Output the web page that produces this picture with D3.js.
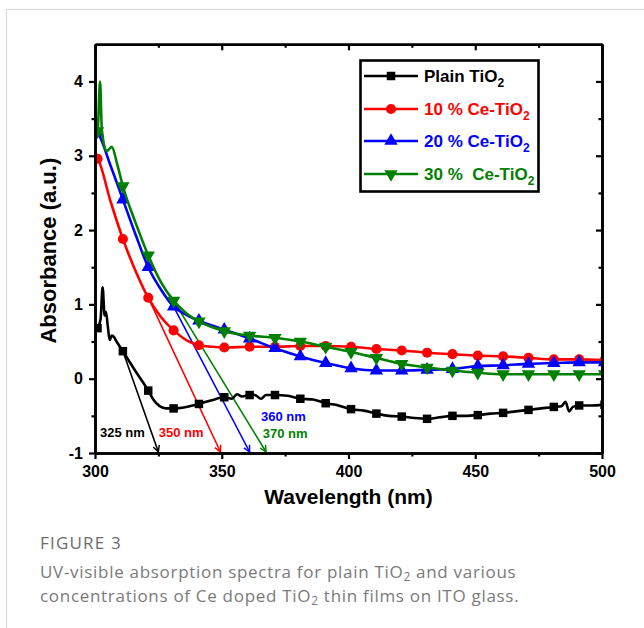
<!DOCTYPE html>
<html><head><meta charset="utf-8">
<script src="https://cdn.jsdelivr.net/npm/d3@7"></script>
<style>
html,body{margin:0;padding:0;background:#fff;}
svg{display:block;}
</style></head>
<body>
<svg id="chart" width="644" height="628"></svg>
<script>
// ---------- DATA ----------
const xMajorTicks = [300, 350, 400, 450, 500];
const xMinorTicks = [325, 375, 425, 475];
const yMajorTicks = [-1, 0, 1, 2, 3, 4];
const yMinorTicks = [-0.5, 0.5, 1.5, 2.5, 3.5];

const markerWavelengths = [301,311,321,331,341,351,361,371,381,391,401,411,421,431,441,451,461,471,481,491,501];

const plainTiO2 = [[300.2,0.66],[301,0.68],[302.2,0.80],[303,1.23],[303.8,0.85],[304.3,0.90],[305,0.72],[305.8,0.52],[306.6,0.58],[307.5,0.56],[308.5,0.50],[311,0.37],[316,0.10],[321,-0.16],[323,-0.28],[325.5,-0.37],[328,-0.40],[331,-0.40],[336,-0.38],[341,-0.34],[346,-0.29],[351,-0.25],[354,-0.27],[356,-0.21],[358,-0.24],[361,-0.22],[363,-0.22],[365.5,-0.27],[367.5,-0.22],[371,-0.22],[376,-0.23],[381,-0.27],[386,-0.28],[391,-0.33],[396,-0.36],[401,-0.41],[406,-0.43],[411,-0.47],[416,-0.50],[421,-0.51],[426,-0.53],[431,-0.54],[436,-0.52],[441,-0.50],[446,-0.50],[451,-0.49],[456,-0.47],[461,-0.46],[466,-0.44],[471,-0.42],[476,-0.40],[481,-0.38],[484,-0.37],[485.6,-0.31],[487,-0.44],[488.5,-0.38],[491,-0.36],[496,-0.36],[501,-0.35]];
const ce10 = [[300.3,2.98],[301,2.96],[306,2.40],[311,1.88],[316,1.45],[321,1.09],[326,0.83],[331,0.65],[336,0.52],[341,0.45],[346,0.43],[351,0.42],[361,0.43],[371,0.43],[381,0.44],[391,0.44],[401,0.43],[411,0.40],[421,0.38],[431,0.35],[441,0.33],[451,0.31],[461,0.30],[471,0.28],[481,0.26],[491,0.26],[501,0.25]];
const ce20 = [[300.3,3.33],[301,3.31],[306,2.88],[311,2.41],[316,1.94],[321,1.50],[326,1.20],[331,0.97],[336,0.86],[341,0.78],[351,0.66],[361,0.54],[371,0.41],[381,0.30],[391,0.21],[401,0.14],[411,0.11],[421,0.11],[431,0.12],[441,0.13],[451,0.17],[461,0.18],[471,0.20],[481,0.21],[491,0.22],[501,0.22]];
const ce30 = [[300.3,3.37],[301,3.33],[302,4.00],[302.7,3.35],[304.6,3.06],[306.6,3.12],[308.8,2.88],[311,2.59],[316,2.10],[321,1.66],[326,1.30],[331,1.05],[336,0.88],[341,0.77],[351,0.64],[361,0.58],[371,0.55],[381,0.50],[391,0.43],[401,0.36],[411,0.28],[421,0.20],[431,0.15],[441,0.11],[451,0.08],[461,0.06],[471,0.06],[481,0.06],[491,0.06],[501,0.06]];

const seriesNames = ["Plain TiO", "10 % Ce-TiO", "20 % Ce-TiO", "30 %  Ce-TiO"];
const seriesColors = ["#000000", "#ff0000", "#0000ff", "#008000"];
const seriesSymbols = ["square", "circle", "triangle", "triangleDown"];

// tangent lines: from point, to point (data units), label text, label anchor (data units)
const tangentFrom = [[311,0.37],[321,1.09],[331,0.97],[331,1.05]];
const tangentTo = [[325,-1],[349.5,-1],[361,-1],[367.5,-1]];
const tangentLabels = ["325 nm", "350 nm", "360 nm", "370 nm"];
const tangentLabelAt = [[310.8,-0.72],[334.0,-0.72],[374.3,-0.51],[375.0,-0.74]];

const xTitle = "Wavelength (nm)";
const yTitle = "Absorbance (a.u.)";
const figureLabel = "FIGURE 3";
const captionLine1 = ["UV-visible absorption spectra for plain TiO", "2", " and various"];
const captionLine2 = ["concentrations of Ce doped TiO", "2", " thin films on ITO glass."];

// ---------- DRAW ----------
const svg = d3.select("#chart");
const x = d3.scaleLinear().domain([300, 500]).range([95, 602]);
const y = d3.scaleLinear().domain([-1, 4.5]).range([453, 44.3]);
const seriesData = [plainTiO2, ce10, ce20, ce30];

// card border
svg.append("rect").attr("x", 6.5).attr("y", 9.5).attr("width", 700).attr("height", 700)
  .attr("fill", "none").attr("stroke", "#d9d9d9").attr("stroke-width", 1.2);

const defs = svg.append("defs");
defs.append("clipPath").attr("id", "plotclip").append("rect")
  .attr("x", x(300)).attr("y", y(4.5)).attr("width", x(500) - x(300)).attr("height", y(-1) - y(4.5));
seriesColors.forEach((c, i) => {
  defs.append("marker").attr("id", "arr" + i).attr("viewBox", "0 0 10 10")
    .attr("refX", 9).attr("refY", 5).attr("markerWidth", 8).attr("markerHeight", 8)
    .attr("markerUnits", "userSpaceOnUse").attr("orient", "auto")
    .append("path").attr("d", "M1,1 L9,5 L1,9").attr("fill", "none").attr("stroke", c).attr("stroke-width", 1.8);
});

function symbolPath(kind, size) {
  if (kind === "square") return d3.symbol(d3.symbolSquare, size)();
  if (kind === "circle") return d3.symbol(d3.symbolCircle, size)();
  return d3.symbol(d3.symbolTriangle, size)();
}

const plot = svg.append("g").attr("clip-path", "url(#plotclip)");
const line = d3.line().x(d => x(d[0])).y(d => y(d[1])).curve(d3.curveMonotoneX);

// tangents
tangentFrom.forEach((f, i) => {
  plot.append("line").attr("x1", x(f[0])).attr("y1", y(f[1]))
    .attr("x2", x(tangentTo[i][0])).attr("y2", y(tangentTo[i][1]) - 1)
    .attr("stroke", seriesColors[i]).attr("stroke-width", 1.6)
    .attr("marker-end", `url(#arr${i})`);
});

seriesData.forEach((data, i) => {
  plot.append("path").datum(data).attr("d", line)
    .attr("fill", "none").attr("stroke", seriesColors[i]).attr("stroke-width", 2.6)
    .attr("stroke-linejoin", "round");
  const pts = data.filter(d => markerWavelengths.includes(d[0]));
  plot.selectAll(null).data(pts).enter().append("path")
    .attr("d", symbolPath(seriesSymbols[i], seriesSymbols[i] === "square" ? 72 : (seriesSymbols[i] === "circle" ? 80 : 78)))
    .attr("transform", d => `translate(${x(d[0])},${y(d[1])})` + (seriesSymbols[i] === "triangleDown" ? " rotate(180)" : ""))
    .attr("fill", seriesColors[i]);
});

// tangent labels
tangentLabels.forEach((t, i) => {
  svg.append("text").attr("x", x(tangentLabelAt[i][0])).attr("y", y(tangentLabelAt[i][1]))
    .attr("text-anchor", "middle").attr("dominant-baseline", "central")
    .attr("font-family", "Liberation Sans, Arial, sans-serif").attr("font-weight", "bold")
    .attr("font-size", 13).attr("fill", seriesColors[i]).text(t);
});

// axes
const axisFont = "Liberation Sans, Arial, sans-serif";
function styleAxis(g, labels) {
  g.select(".domain").attr("stroke", "#000").attr("stroke-width", 2.6);
  g.selectAll(".tick line").attr("stroke", "#000").attr("stroke-width", 2.2);
  g.selectAll(".tick text").attr("font-family", axisFont).attr("font-weight", "bold")
    .attr("font-size", 16).attr("fill", "#000");
  if (!labels) g.selectAll(".tick text").remove();
}
const gB = svg.append("g").attr("transform", `translate(0,${y(-1)})`)
  .call(d3.axisBottom(x).tickValues(xMajorTicks).tickSize(6).tickSizeOuter(0).tickPadding(7).tickFormat(d3.format("d")));
styleAxis(gB, true);
const gBm = svg.append("g").attr("transform", `translate(0,${y(-1)})`)
  .call(d3.axisBottom(x).tickValues(xMinorTicks).tickSize(3.5).tickSizeOuter(0).tickFormat(""));
styleAxis(gBm, false);
const gT = svg.append("g").attr("transform", `translate(0,${y(4.5)})`)
  .call(d3.axisTop(x).tickValues(xMajorTicks).tickSize(-6).tickSizeOuter(0));
styleAxis(gT, false);
const gTm = svg.append("g").attr("transform", `translate(0,${y(4.5)})`)
  .call(d3.axisTop(x).tickValues(xMinorTicks).tickSize(-3.5).tickSizeOuter(0));
styleAxis(gTm, false);
const gL = svg.append("g").attr("transform", `translate(${x(300)},0)`)
  .call(d3.axisLeft(y).tickValues(yMajorTicks).tickSize(6).tickSizeOuter(0).tickPadding(6).tickFormat(d3.format("d")));
styleAxis(gL, true);
gL.selectAll(".tick text").text(d => d < 0 ? "-" + Math.abs(d) : d);
const gLm = svg.append("g").attr("transform", `translate(${x(300)},0)`)
  .call(d3.axisLeft(y).tickValues(yMinorTicks).tickSize(3.5).tickSizeOuter(0).tickFormat(""));
styleAxis(gLm, false);
const gR = svg.append("g").attr("transform", `translate(${x(500)},0)`)
  .call(d3.axisRight(y).tickValues(yMajorTicks).tickSize(-6).tickSizeOuter(0));
styleAxis(gR, false);
const gRm = svg.append("g").attr("transform", `translate(${x(500)},0)`)
  .call(d3.axisRight(y).tickValues(yMinorTicks).tickSize(-3.5).tickSizeOuter(0));
styleAxis(gRm, false);

// axis titles
svg.append("text").attr("x", (x(300) + x(500)) / 2).attr("y", 504).attr("text-anchor", "middle")
  .attr("font-family", axisFont).attr("font-weight", "bold").attr("font-size", 21).text(xTitle);
svg.append("text").attr("transform", `translate(56,${(y(-1) + y(4.5)) / 2 + 2}) rotate(-90)`).attr("text-anchor", "middle")
  .attr("font-family", axisFont).attr("font-weight", "bold").attr("font-size", 22).text(yTitle);

// legend
const lg = svg.append("g");
lg.append("rect").attr("x", 360.5).attr("y", 60.5).attr("width", 178).attr("height", 131)
  .attr("fill", "#fff").attr("stroke", "#000").attr("stroke-width", 2.6);
const legendRows = [76, 109, 141, 174];
seriesNames.forEach((n, i) => {
  const yy = legendRows[i];
  lg.append("line").attr("x1", 364).attr("x2", 418).attr("y1", yy).attr("y2", yy)
    .attr("stroke", seriesColors[i]).attr("stroke-width", 2.6);
  lg.append("path").attr("d", symbolPath(seriesSymbols[i], seriesSymbols[i] === "square" ? 72 : (seriesSymbols[i] === "circle" ? 80 : 78)))
    .attr("transform", `translate(391,${yy})` + (seriesSymbols[i] === "triangleDown" ? " rotate(180)" : ""))
    .attr("fill", seriesColors[i]);
  const t = lg.append("text").attr("x", 424).attr("y", yy + 6).attr("font-family", axisFont)
    .attr("font-weight", "bold").attr("font-size", 17).attr("fill", seriesColors[i]).attr("xml:space", "preserve");
  t.append("tspan").text(n);
  t.append("tspan").attr("font-size", 12).attr("dy", 5).text("2");
});

// caption
const capFont = "'Open Sans', 'Noto Sans', sans-serif";
svg.append("text").attr("x", 40).attr("y", 549).attr("font-family", capFont).attr("font-size", 17)
  .attr("letter-spacing", 1.2).attr("fill", "#6b6b6b").attr("font-weight", 500).text(figureLabel);
[captionLine1, captionLine2].forEach((parts, i) => {
  const t = svg.append("text").attr("x", 40).attr("y", 578 + i * 24).attr("font-family", capFont)
    .attr("font-size", 17).attr("letter-spacing", 0.7).attr("fill", "#7a7a7a");
  t.append("tspan").text(parts[0]);
  t.append("tspan").attr("font-size", 12).attr("baseline-shift", "-3").text(parts[1]);
  t.append("tspan").text(parts[2]);
});
</script>
</body></html>
